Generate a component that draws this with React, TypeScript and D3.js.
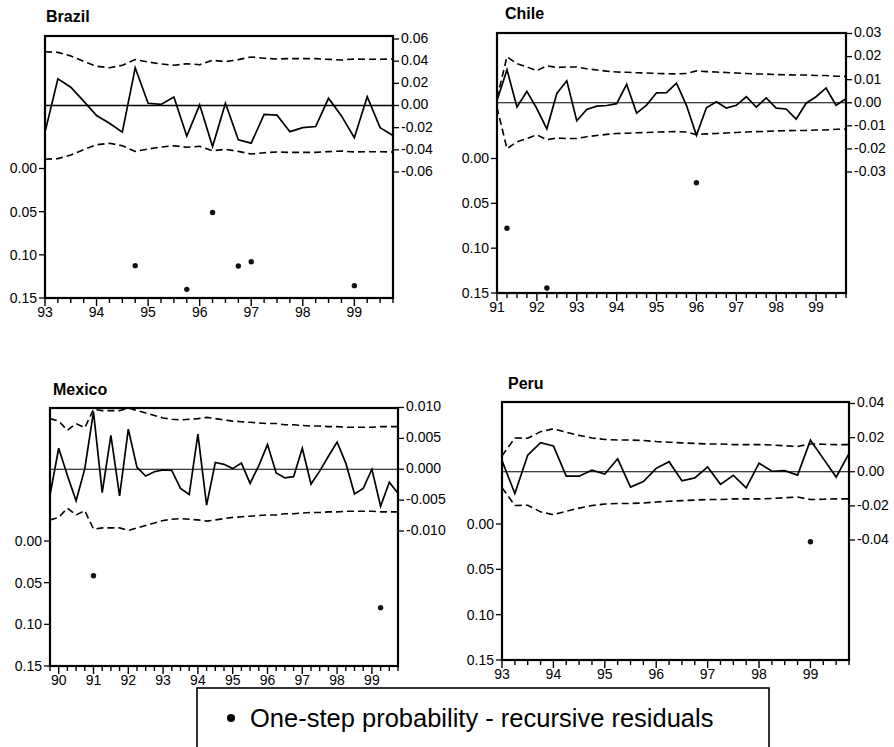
import * as d3 from "d3";

const END = 99.75;
const probTicks = [0, 0.05, 0.1, 0.15];

// Brazil, 93Q1 - 99Q4
const brazilResid = [-0.024, 0.024, 0.0165, 0.004, -0.009, -0.016, -0.024, 0.034, 0.002, 0.001, 0.0076, -0.0276, 0.0006, -0.037, 0.002, -0.031, -0.034, -0.008, -0.0087, -0.0236, -0.02, -0.019, 0.0065, -0.0094, -0.029, 0.008, -0.02, -0.027];
const brazilBand = [0.0485, 0.0479, 0.0447, 0.0398, 0.0354, 0.0341, 0.0363, 0.0414, 0.0393, 0.0375, 0.0363, 0.0377, 0.0368, 0.0408, 0.0395, 0.0414, 0.0438, 0.0426, 0.042, 0.0423, 0.0423, 0.0423, 0.0416, 0.0411, 0.0419, 0.0417, 0.0417, 0.042];
const brazilDots = [[94.75, 0.1125], [95.75, 0.14], [96.25, 0.051], [96.75, 0.113], [97.0, 0.108], [99.0, 0.1357]];

// Chile, 91Q1 - 99Q4
const chileResid = [0.001, 0.0143, -0.0018, 0.0049, -0.0026, -0.0113, 0.004, 0.0095, -0.0078, -0.0029, -0.0015, -0.0012, -0.0004, 0.008, -0.0045, -0.001, 0.0043, 0.0044, 0.0085, -0.0011, -0.0141, -0.0022, 0.0004, -0.0023, -0.0011, 0.0026, -0.0019, 0.0021, -0.0023, -0.0027, -0.0071, -0.0002, 0.0026, 0.0064, -0.0011, 0.0017];
const chileBand = [0.002, 0.0199, 0.0169, 0.0155, 0.0139, 0.016, 0.0153, 0.0155, 0.0155, 0.0147, 0.0142, 0.0137, 0.0133, 0.0132, 0.013, 0.0129, 0.0127, 0.0126, 0.0125, 0.0127, 0.0138, 0.0135, 0.0133, 0.0131, 0.0129, 0.0127, 0.0125, 0.0124, 0.0122, 0.0121, 0.012, 0.012, 0.0118, 0.0118, 0.0115, 0.0114];
const chileDots = [[91.25, 0.0778], [92.25, 0.1444], [96.0, 0.027]];

// Mexico, 89Q4 - 99Q4
const mexicoResid = [-0.0042, 0.0034, -0.001, -0.0051, 0.0001, 0.0093, -0.0038, 0.0055, -0.0043, 0.0065, 0.0003, -0.0011, -0.0004, -0.0001, -0.0002, -0.0031, -0.0041, 0.0057, -0.0058, 0.0011, 0.0008, 0.0001, 0.001, -0.0023, 0.0006, 0.004, -0.0006, -0.0014, -0.0012, 0.0034, -0.0024, -0.0003, 0.0021, 0.0044, 0.001, -0.004, -0.0031, 0.0, -0.006, -0.0021, -0.0039];
const mexicoBand = [0.0082, 0.0078, 0.0063, 0.0074, 0.0067, 0.0097, 0.0095, 0.0095, 0.0095, 0.0099, 0.0095, 0.0091, 0.0087, 0.0083, 0.0081, 0.008, 0.0081, 0.0082, 0.0084, 0.0082, 0.008, 0.0078, 0.0077, 0.0076, 0.0075, 0.0074, 0.0074, 0.0072, 0.0072, 0.0071, 0.007, 0.007, 0.0069, 0.0069, 0.0068, 0.0068, 0.0068, 0.0068, 0.0069, 0.0069, 0.0069];
const mexicoDots = [[91.0, 0.0417], [99.25, 0.08]];

// Peru, 93Q1 - 99Q4
const peruResid = [0.0065, -0.0128, 0.0097, 0.017, 0.0151, -0.0026, -0.0026, 0.0009, -0.0013, 0.0076, -0.009, -0.0058, 0.002, 0.0059, -0.0053, -0.0036, 0.0028, -0.0074, -0.0021, -0.0094, 0.005, 0.0003, 0.0006, -0.002, 0.0185, 0.0077, -0.0031, 0.0106];
const peruBand = [0.0093, 0.0198, 0.0196, 0.0235, 0.0252, 0.0231, 0.0213, 0.0198, 0.0189, 0.0186, 0.0186, 0.0183, 0.0177, 0.0173, 0.0169, 0.0166, 0.0163, 0.0163, 0.0159, 0.0159, 0.0159, 0.0157, 0.0152, 0.0148, 0.0163, 0.0161, 0.0159, 0.0159];
const peruDots = [[99.0, 0.0195]];

const FONT = "'Liberation Sans', Arial, Helvetica, sans-serif";

const panels = [
  { name: "Brazil", start: 93, resid: brazilResid, band: brazilBand, dots: brazilDots, rMax: 0.06, rStep: 0.02, dec: 2, zw: 1.4,
    x0: 45, x1: 393, top: 36, bottom: 298, rRange: [172, 39], pRange: [168.5, 298], tx: 46, ty: 22 },
  { name: "Chile", start: 91, resid: chileResid, band: chileBand, dots: chileDots, rMax: 0.03, rStep: 0.01, dec: 2, zw: 1,
    x0: 497, x1: 846, top: 33, bottom: 293, rRange: [172, 33.5], pRange: [158.5, 293], tx: 505, ty: 19 },
  { name: "Mexico", start: 89.75, resid: mexicoResid, band: mexicoBand, dots: mexicoDots, rMax: 0.01, rStep: 0.005, dec: 3, zw: 1,
    x0: 50, x1: 398, top: 408, bottom: 666, rRange: [531, 407.5], pRange: [541, 666], tx: 53, ty: 395 },
  { name: "Peru", start: 93, resid: peruResid, band: peruBand, dots: peruDots, rMax: 0.04, rStep: 0.02, dec: 2, zw: 1,
    x0: 502, x1: 849, top: 402, bottom: 660, rRange: [540, 403.5], pRange: [524, 660], tx: 508, ty: 389 },
];

const fmt = (v: number, dec: number) => (Math.abs(v) < 1e-9 ? 0 : v).toFixed(dec);

function Panel({ p }: { p: any }) {
  const x = d3.scaleLinear().domain([p.start, END]).range([p.x0, p.x1]);
  const yR = d3.scaleLinear().domain([-p.rMax, p.rMax]).range(p.rRange);
  const yP = d3.scaleLinear().domain([0, 0.15]).range(p.pRange);
  const t = (i: number) => p.start + i / 4;

  const line = d3.line<number>().x((_, i) => x(t(i))).y((d) => yR(d));
  const upper = d3.line<number>().x((_, i) => x(t(i))).y((d) => yR(d));
  const lower = d3.line<number>().x((_, i) => x(t(i))).y((d) => yR(-d));

  const nQ = Math.round((END - p.start) * 4);
  const quarters = d3.range(0, nQ + 1).map((i) => p.start + i / 4);
  const years = d3.range(Math.ceil(p.start), 100);
  const nR = Math.round(p.rMax / p.rStep);
  const rTicks = d3.range(-nR, nR + 1).map((k) => k * p.rStep);

  return (
    <g>
      <text x={p.tx} y={p.ty} fontFamily={FONT} fontWeight="bold" fontSize={16}>{p.name}</text>
      <line x1={p.x0} x2={p.x1} y1={yR(0)} y2={yR(0)} stroke="#000" strokeWidth={p.zw} />
      <path d={upper(p.band) || ""} fill="none" stroke="#000" strokeWidth={1.6} strokeDasharray="7,4" />
      <path d={lower(p.band) || ""} fill="none" stroke="#000" strokeWidth={1.6} strokeDasharray="7,4" />
      <path d={line(p.resid) || ""} fill="none" stroke="#000" strokeWidth={1.7} strokeLinejoin="miter" />
      {p.dots.map((d: number[], i: number) => (
        <circle key={i} cx={x(d[0])} cy={yP(d[1])} r={2.7} fill="#111" />
      ))}
      <rect x={p.x0} y={p.top} width={p.x1 - p.x0} height={p.bottom - p.top} fill="none" stroke="#000" strokeWidth={2.2} />
      {quarters.map((q, i) => {
        const major = Math.abs(q - Math.round(q)) < 1e-6;
        return <line key={i} x1={x(q)} x2={x(q)} y1={p.bottom} y2={p.bottom + (major ? 8 : 5)} stroke="#000" strokeWidth={1.4} />;
      })}
      {years.map((yv) => (
        <text key={yv} x={x(yv)} y={p.bottom + 19} textAnchor="middle" fontFamily={FONT} fontSize={14}>{String(yv)}</text>
      ))}
      {rTicks.map((v, i) => (
        <g key={i}>
          <line x1={p.x1} x2={p.x1 + 6} y1={yR(v)} y2={yR(v)} stroke="#000" strokeWidth={1.3} />
          <text x={p.x1 + 8} y={yR(v) - 1} dy="0.35em" fontFamily={FONT} fontSize={14}>{fmt(v, p.dec)}</text>
        </g>
      ))}
      {probTicks.map((v, i) => (
        <g key={i}>
          <line x1={p.x0 - 6} x2={p.x0} y1={yP(v)} y2={yP(v)} stroke="#000" strokeWidth={1.3} />
          <text x={p.x0 - 8} y={yP(v)} dy="0.35em" textAnchor="end" fontFamily={FONT} fontSize={14}>{fmt(v, 2)}</text>
        </g>
      ))}
    </g>
  );
}

export default function App() {
  return (
    <svg width={894} height={747} style={{ position: "absolute", left: 0, top: 0, background: "#fff" }}>
      <rect x={0} y={0} width={894} height={747} fill="#fff" />
      {panels.map((p) => <Panel key={p.name} p={p} />)}
      <rect x={197} y={688} width={572} height={80} fill="none" stroke="#000" strokeWidth={1.6} />
      <circle cx={231} cy={718} r={4} fill="#000" />
      <text x={250} y={727} fontFamily={FONT} fontSize={25.5}>One-step probability - recursive residuals</text>
    </svg>
  );
}
